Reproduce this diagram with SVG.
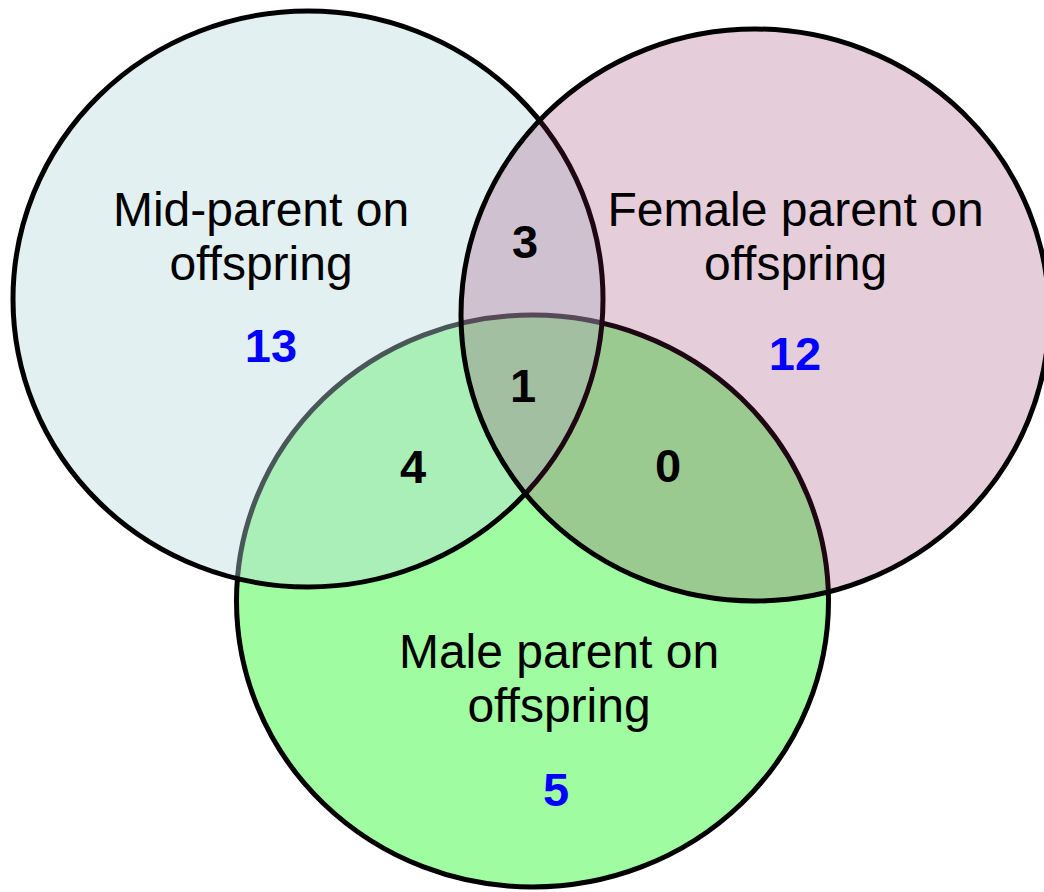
<svg xmlns="http://www.w3.org/2000/svg" width="1044" height="892" viewBox="0 0 1044 892">
  <style>
    .set { stroke: #000; stroke-width: 5; }
    .label { font-family: "Liberation Sans", Arial, sans-serif; font-size: 48px; fill: #000; text-anchor: middle; }
    .count { font-family: "Liberation Sans", Arial, sans-serif; font-size: 47px; font-weight: bold; fill: #0000ff; text-anchor: middle; }
    .inter { font-family: "Liberation Sans", Arial, sans-serif; font-size: 47px; font-weight: bold; fill: #000; text-anchor: middle; }
  </style>
  <rect width="1044" height="892" fill="#ffffff"/>
  <g id="sets">
    <g id="male-parent">
      <ellipse class="set" cx="532.5" cy="601" rx="296" ry="286" fill="#a0fca0"/>
    </g>
    <g id="mid-parent">
      <ellipse class="set" cx="308" cy="299" rx="295" ry="288" fill="#b9d9dc" fill-opacity="0.4"/>
    </g>
    <g id="female-parent">
      <ellipse class="set" cx="755" cy="315" rx="294" ry="286" fill="#881b56" fill-opacity="0.22"/>
    </g>
  </g>
  <g id="mid-parent-label">
    <text class="label" x="261" y="226">Mid-parent on</text>
    <text class="label" x="261" y="280">offspring</text>
    <text class="count" x="271" y="362">13</text>
  </g>
  <g id="female-parent-label">
    <text class="label" x="795.5" y="226">Female parent on</text>
    <text class="label" x="795.5" y="280">offspring</text>
    <text class="count" x="795" y="370">12</text>
  </g>
  <g id="male-parent-label">
    <text class="label" x="559" y="668">Male parent on</text>
    <text class="label" x="559" y="722">offspring</text>
    <text class="count" x="556" y="806">5</text>
  </g>
  <g id="intersections">
    <text class="inter" x="525" y="258">3</text>
    <text class="inter" x="523" y="402">1</text>
    <text class="inter" x="413" y="483">4</text>
    <text class="inter" x="668" y="482">0</text>
  </g>
</svg>
